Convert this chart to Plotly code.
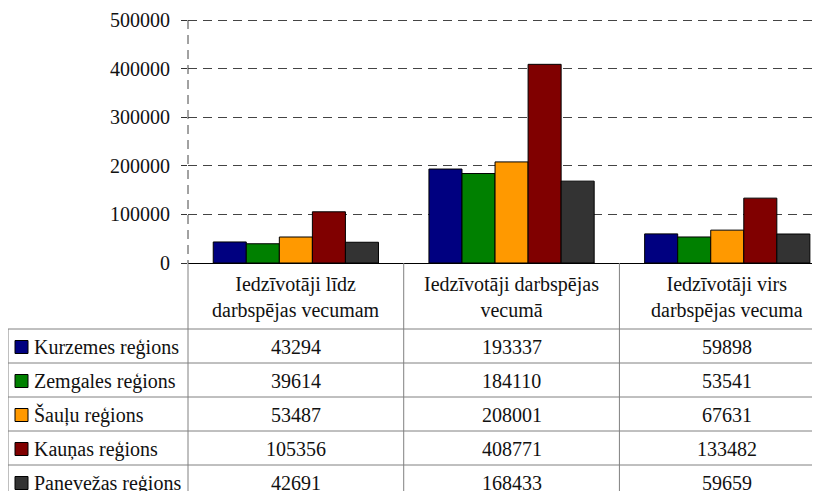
import plotly.graph_objects as go

categories = ["Iedzīvotāji līdz<br>darbspējas vecumam",
              "Iedzīvotāji darbspējas<br>vecumā",
              "Iedzīvotāji virs<br>darbspējas vecuma"]

regions = ["Kurzemes reģions",
           "Zemgales reģions",
           "Šauļu reģions",
           "Kauņas reģions",
           "Panevežas reģions"]

kurzemes = [43294, 193337, 59898]
zemgales = [39614, 184110, 53541]
saulu = [53487, 208001, 67631]
kaunas = [105356, 408771, 133482]
panevezas = [42691, 168433, 59659]

values = [kurzemes, zemgales, saulu, kaunas, panevezas]

colors = ["#000080", "#008000", "#FF9900", "#800000", "#333333"]

W, H = 820, 491
OFF = 8  # page body margin
FONT = "Liberation Serif"
FS = 20
TXT = "#111"

y_max = 510000  # a bit above 500000 so the top gridline is drawn


def px(x):
    return (x - OFF) / W


def py(y):
    return 1 - (y - OFF) / H


fig = go.Figure()

for name, vals, col in zip(regions, values, colors):
    fig.add_trace(go.Bar(x=categories, y=vals, name=name,
                         marker=dict(color=col, line=dict(color="black", width=1)),
                         showlegend=False))

top_tab = 263
head_bot = 329
row_h = 34
left_x = 8
axis_x = 188
grey = "#808080"
plot_top = top_tab - 243 * y_max / 500000

shapes = []
shapes.append(dict(type="line", xref="paper", yref="paper",
                   x0=px(axis_x), x1=px(axis_x), y0=py(20), y1=py(top_tab),
                   line=dict(color="#444", width=1, dash="9px,6px")))
shapes.append(dict(type="line", xref="paper", yref="paper",
                   x0=px(axis_x), x1=px(axis_x), y0=py(top_tab), y1=0,
                   line=dict(color=grey, width=1)))
shapes.append(dict(type="line", xref="paper", yref="paper",
                   x0=px(left_x), x1=px(left_x), y0=py(head_bot), y1=0,
                   line=dict(color=grey, width=1)))
for xb in [0.5, 1.5]:
    shapes.append(dict(type="line", xref="x", yref="paper",
                       x0=xb, x1=xb, y0=py(top_tab), y1=0,
                       line=dict(color=grey, width=1)))
for i in range(len(regions)):
    yl = head_bot + i * row_h
    shapes.append(dict(type="line", xref="paper", yref="paper",
                       x0=px(left_x), x1=1, y0=py(yl), y1=py(yl),
                       line=dict(color=grey, width=1)))

annotations = []
for c in categories:
    annotations.append(dict(x=c, xref="x", y=py((top_tab + head_bot) / 2 + 1), yref="paper",
                            text=c, showarrow=False, xanchor="center", yanchor="middle",
                            font=dict(family=FONT, size=FS, color=TXT)))
for i, (name, vals, col) in enumerate(zip(regions, values, colors)):
    yc = head_bot + i * row_h + row_h / 2 + 1
    shapes.append(dict(type="rect", xref="paper", yref="paper",
                       x0=px(15), x1=px(28), y0=py(yc - 6.5), y1=py(yc + 6.5),
                       fillcolor=col, line=dict(color="black", width=1)))
    annotations.append(dict(x=px(32), xref="paper", y=py(yc), yref="paper",
                            text=name, showarrow=False, xanchor="left", yanchor="middle",
                            font=dict(family=FONT, size=FS, color=TXT)))
    for c, v in zip(categories, vals):
        annotations.append(dict(x=c, xref="x", y=py(yc), yref="paper",
                                text=str(v), showarrow=False, xanchor="center", yanchor="middle",
                                font=dict(family=FONT, size=FS, color=TXT)))

fig.update_layout(
    template="none",
    width=W, height=H, autosize=False,
    margin=dict(l=0, r=0, t=0, b=0, pad=0),
    paper_bgcolor="white", plot_bgcolor="white",
    barmode="group", bargap=0.234, bargroupgap=0,
    font=dict(family=FONT, size=FS, color=TXT),
    xaxis=dict(domain=[px(axis_x), 1], range=[-0.5, 2.467], automargin=False,
               showticklabels=False, showgrid=False, ticks="", showline=False,
               zeroline=False),
    yaxis=dict(domain=[py(top_tab), py(plot_top)], range=[0, y_max], automargin=False,
               tickvals=[0, 100000, 200000, 300000, 400000, 500000],
               tickformat="d", ticks="outside", ticklen=6, tickcolor="#333",
               tickfont=dict(family=FONT, size=FS, color=TXT),
               showgrid=True, gridcolor="#444", griddash="9px,6px", gridwidth=1,
               zeroline=True, zerolinecolor="black", zerolinewidth=1,
               showline=False, ticklabelstandoff=7),
    shapes=shapes,
    annotations=annotations,
)

fig.write_html("out.html")
